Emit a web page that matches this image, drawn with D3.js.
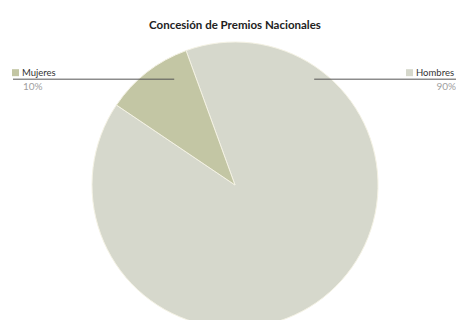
<!DOCTYPE html>
<html>
<head>
<meta charset="utf-8">
<style>
  body { margin: 0; background: #fff; font-family: Lato, "Open Sans", sans-serif; }
  .title { font-weight: bold; font-size: 11.5px; fill: #222; text-anchor: middle; }
  .lbl { font-size: 9.5px; fill: #333; }
  .pct { font-size: 10px; fill: #a0a0a0; }
  .leader { stroke: #555; stroke-width: 1; }
</style>
<script src="https://d3js.org/d3.v7.min.js"></script>
</head>
<body>
<svg width="456" height="320"></svg>
<script>
// data
let categories = ["Hombres", "Mujeres"];
let values = [90, 10];
let colors = ["#d6d8cc", "#c3c6a4"];

let svg = d3.select("svg");
let width = 456, cx = 235, cy = 185, r = 143;

svg.append("text").attr("class", "title")
   .attr("x", cx).attr("y", 29)
   .text("Concesión de Premios Nacionales");

let pie = d3.pie().sort(null)
    .startAngle(-20 * Math.PI / 180)
    .endAngle(340 * Math.PI / 180);
let arcs = pie(values);
let arc = d3.arc().innerRadius(0).outerRadius(r);

let g = svg.append("g").attr("transform", `translate(${cx},${cy})`);
g.selectAll("path").data(arcs).enter().append("path")
  .attr("d", arc)
  .attr("fill", (d, i) => colors[i])
  .attr("stroke", "#f4f2e4")
  .attr("stroke-width", 1);

// leader lines + labels (Hombres right, Mujeres left)
let lineY = cy - 0.74 * r;
let ends = [
  { a: 37, k: 0.92 },   // Hombres
  { a: -30, k: 0.85 }   // Mujeres
];
categories.forEach((c, i) => {
  let ang = ends[i].a * Math.PI / 180;
  let ex = cx + Math.sin(ang) * ends[i].k * r;
  let right = i === 0;
  svg.append("line").attr("class", "leader")
     .attr("x1", ex).attr("x2", right ? width : 13)
     .attr("y1", lineY).attr("y2", lineY);
  let sx = right ? 406 : 12;
  svg.append("rect").attr("x", sx).attr("y", lineY - 10)
     .attr("width", 7).attr("height", 7).attr("fill", colors[i]);
  svg.append("text").attr("class", "lbl")
     .attr("x", sx + 10).attr("y", lineY - 3).text(c);
  svg.append("text").attr("class", "pct")
     .attr("x", right ? width : 23).attr("y", lineY + 11)
     .attr("text-anchor", right ? "end" : "start")
     .text(values[i] + "%");
});
</script>
</body>
</html>
